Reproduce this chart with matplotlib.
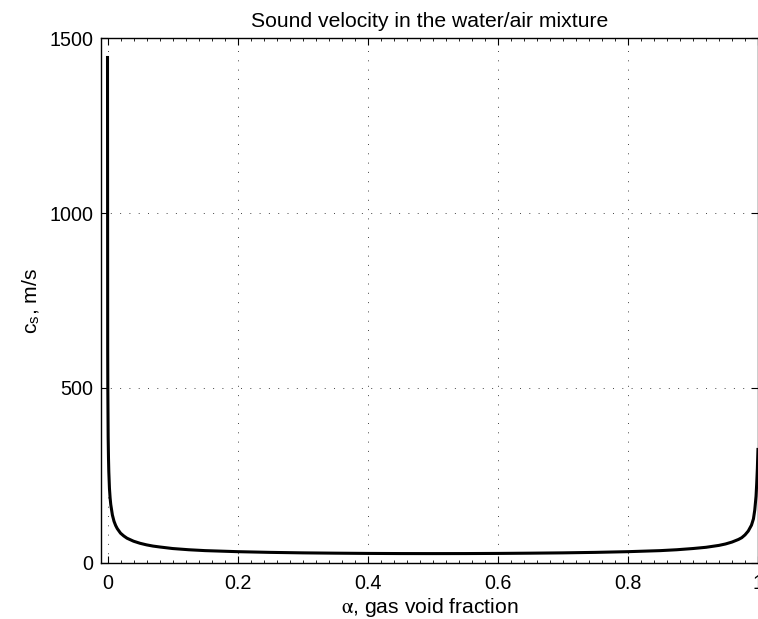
import matplotlib
matplotlib.use("Agg")
import matplotlib.pyplot as plt
from matplotlib.ticker import MultipleLocator

plt.rcParams['font.family'] = ['Liberation Sans', 'DejaVu Sans']
plt.rcParams['mathtext.fontset'] = 'stix'

# Data (gas void fraction vs. sound velocity, m/s)
alpha = [0.0, 0.0003, 0.0005, 0.001, 0.0015, 0.002, 0.003, 0.004, 0.005,
         0.0075, 0.01, 0.0125, 0.015, 0.02, 0.025, 0.03, 0.04, 0.05, 0.06,
         0.07, 0.08, 0.1, 0.125, 0.15, 0.175, 0.2, 0.25, 0.3, 0.35, 0.4,
         0.45, 0.5, 0.55, 0.6, 0.65, 0.7, 0.75, 0.8, 0.85, 0.875, 0.9, 0.92,
         0.94, 0.95, 0.96, 0.97, 0.975, 0.98, 0.985, 0.99, 0.993, 0.995,
         0.997, 0.998, 0.999, 1.0]
cs = [1450, 610, 495, 360, 300, 260, 212, 185, 166,
      136, 118, 106, 97, 84, 76, 69.5, 61, 55, 50.5,
      47, 44.5, 40, 36.5, 34, 32.5, 31, 29, 27.6, 26.7, 26,
      25.6, 25.5, 25.6, 26, 26.7, 27.6, 29, 31, 34, 36.5, 40, 43.5,
      49, 53, 58.5, 66, 71, 79, 90, 107, 125, 150,
      190, 225, 268, 328]

xticks = [0, 0.2, 0.4, 0.6, 0.8, 1]
xticklabels = ['0', '0.2', '0.4', '0.6', '0.8', '1']
yticks = [0, 500, 1000, 1500]
yticklabels = ['0', '500', '1000', '1500']

fig = plt.figure(figsize=(7.58, 6.19), dpi=100)
ax = fig.add_axes([101/758, 1 - 562.5/619, 1 - 101/758, (562.5 - 38.5)/619])

ax.plot(alpha, cs, color='black', lw=2.2, solid_joinstyle='round',
        solid_capstyle='butt', zorder=3)

ax.set_xlim(-0.01, 1.0)
ax.set_ylim(0, 1500)
ax.set_xticks(xticks)
ax.set_xticklabels(xticklabels)
ax.set_yticks(yticks)
ax.set_yticklabels(yticklabels)
ax.xaxis.set_minor_locator(MultipleLocator(0.02))

ax.tick_params(axis='both', which='major', direction='in', length=5, width=0.8,
               labelsize=14.2, top=True, right=True)
ax.tick_params(axis='x', which='major', pad=8.5)
ax.tick_params(axis='y', which='major', pad=5.5)
ax.tick_params(axis='x', which='minor', direction='in', length=2.5, width=0.6,
               top=True, bottom=True)
for s in ax.spines.values():
    s.set_linewidth(1.0)

ax.grid(True, which='major', color='0.3', lw=0.72, linestyle=(0, (1, 8.3)))

ax.set_title('Sound velocity in the water/air mixture', fontsize=15.2, pad=8.5)
ax.set_xlabel('$\\mathrm{\\alpha}$, gas void fraction', fontsize=15.2, labelpad=2)
ax.set_ylabel('c$_\\mathregular{s}$, m/s', fontsize=15.2, labelpad=5)

fig.savefig('out.png', dpi=100)
